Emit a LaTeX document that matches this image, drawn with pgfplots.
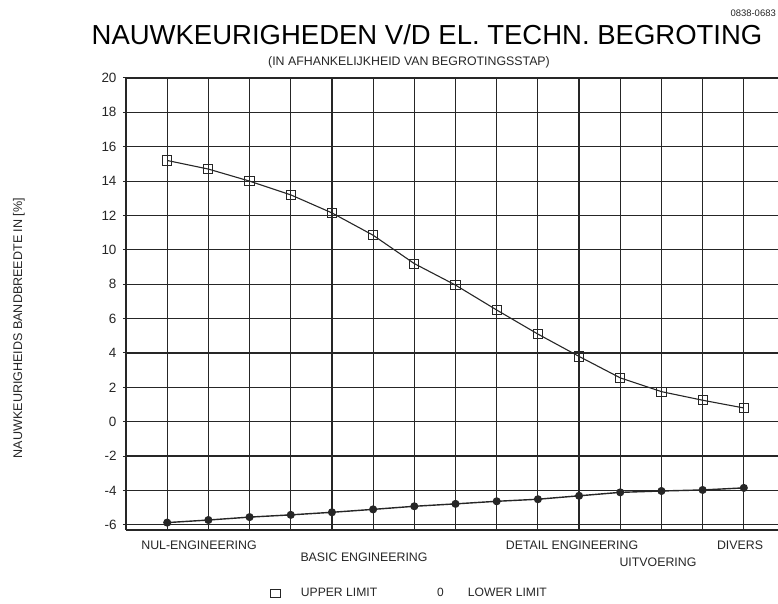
\documentclass[border=0pt]{standalone}
\usepackage{pgfplots}
\pgfplotsset{compat=1.18}
\usepackage{fontspec}
\setmainfont{Liberation Sans}
\definecolor{gridc}{gray}{0.15}
\definecolor{txt}{gray}{0.15}
\pgfplotstableread{
x upper lower
1 15.2 -5.87
2 14.7 -5.72
3 14.0 -5.55
4 13.2 -5.42
5 12.15 -5.27
6 10.85 -5.10
7 9.2 -4.92
8 7.95 -4.78
9 6.5 -4.63
10 5.1 -4.51
11 3.8 -4.31
12 2.55 -4.11
13 1.75 -4.03
14 1.25 -3.97
15 0.8 -3.85
}\datatable
\begin{document}
\begin{tikzpicture}[x=1bp,y=1bp]
\useasboundingbox (-126,-74) rectangle (652,530);
\begin{axis}[
  at={(0,0)}, anchor=south west,
  scale only axis, width=652bp, height=452bp,
  xmin=0, xmax=15.83, ymin=-6.3, ymax=20,
  xtick={1,...,15}, xticklabels={},
  ytick={-6,-4,...,20},
  major x tick style={draw=none},
  ytick style={gridc, line width=1bp},
  tick align=outside, major tick length=3bp,
  grid=major,
  major grid style={gridc, line width=1.2bp},
  axis x line*=bottom, axis y line*=left,
  axis line style={gridc, line width=1.3bp, -},
  /pgf/number format/assume math mode=true,
  yticklabel style={font=\fontsize{13.5}{13.5}\selectfont, text=txt, xshift=-3bp},
  clip=false,
  legend columns=2,
  legend style={draw=none, fill=none, inner sep=0pt, anchor=west,
    at={(axis description cs:0.221,-0.14)},
    font=\fontsize{12.2}{12.2}\selectfont,
    /tikz/every even column/.append style={column sep=58bp},
    nodes={text=txt}},
]
\addplot[gridc, line width=1.1bp, mark=square, mark size=4.6bp,
  mark options={fill=white, line width=1bp, solid}, forget plot]
  table[x=x, y=upper] {\datatable};
\addplot[gridc, line width=1.4bp, mark=*, mark size=3.3bp,
  mark options={fill=gridc}, forget plot]
  table[x=x, y=lower] {\datatable};
\addlegendimage{legend image code/.code={\draw[gridc, line width=1.1bp, fill=white] (13bp,-4bp) rectangle (22.5bp,4bp);}}
\addlegendentry{\hspace{18bp}UPPER LIMIT}
\addlegendimage{legend image code/.code={\node[inner sep=0pt, text=txt, font=\fontsize{12}{12}\selectfont] at (18bp,0) {0};}}
\addlegendentry{\hspace{22bp}LOWER LIMIT}
% leader lines below axis
\draw[gridc, line width=1.1bp] (axis cs:2,-6.3) -- ++(0,-5bp);
\draw[gridc, line width=1.1bp] (axis cs:6,-6.3) -- ++(0,-15bp);
\draw[gridc, line width=1.1bp] (axis cs:13,-6.3) -- ++(0,-20bp);
\draw[gridc, line width=1.1bp] (axis cs:15,-6.3) -- ++(0,-7bp);
\end{axis}
% titles and labels (origin = lower-left of plot area)
\node[text=black, font=\fontsize{27.6}{27.6}\selectfont, inner sep=0pt] at (301,495) {NAUWKEURIGHEDEN V/D EL. TECHN. BEGROTING};
\node[text=txt, font=\fontsize{12.4}{12.4}\selectfont, inner sep=0pt] at (283,468) {(IN AFHANKELIJKHEID VAN BEGROTINGSSTAP)};
\node[text=txt, font=\fontsize{9.5}{9.5}\selectfont, inner sep=0pt, anchor=east] at (650,517) {0838-0683};
\node[text=txt, font=\fontsize{12.6}{12.6}\selectfont, inner sep=0pt, rotate=90] at (-107,202) {NAUWKEURIGHEIDS BANDBREEDTE IN [\%]};
\begin{scope}[every node/.style={text=txt, font=\fontsize{12.4}{12.4}\selectfont, inner sep=0pt}]
\node at (73,-15) {NUL-ENGINEERING};
\node at (238,-27) {BASIC ENGINEERING};
\node at (446,-15) {DETAIL ENGINEERING};
\node at (532,-32) {UITVOERING};
\node at (614,-15) {DIVERS};
\end{scope}
\end{tikzpicture}
\end{document}
